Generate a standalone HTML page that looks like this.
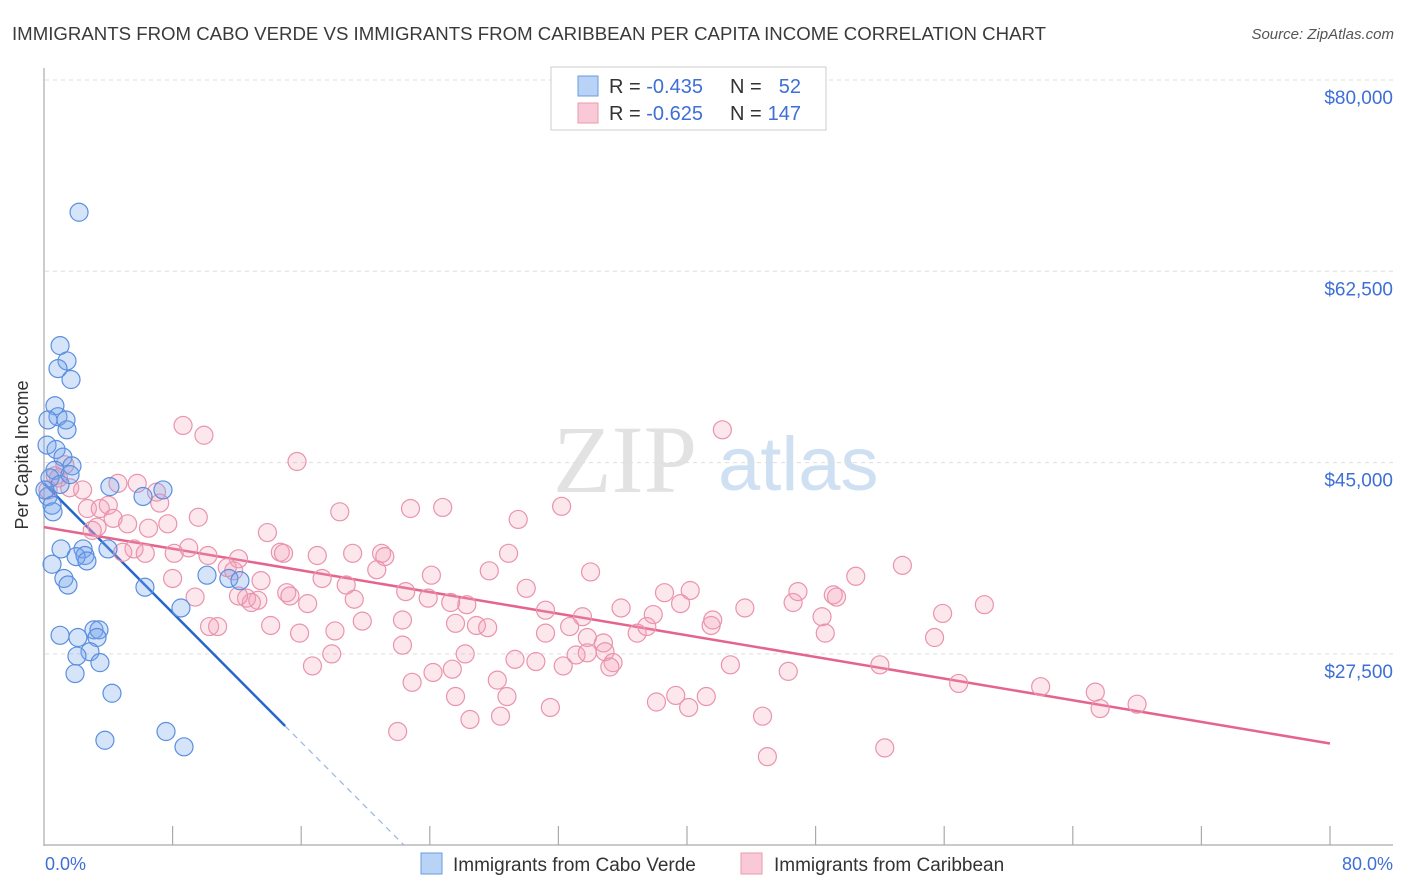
<!DOCTYPE html>
<html><head><meta charset="utf-8"><style>
body{margin:0;background:#fff;font-family:"Liberation Sans",sans-serif;}
svg{display:block}
</style></head><body>
<svg id="chart" width="1406" height="892" viewBox="0 0 1406 892" xmlns="http://www.w3.org/2000/svg">
<text x="12" y="40" font-size="18" fill="#3a3a3a" textLength="1034" lengthAdjust="spacingAndGlyphs">IMMIGRANTS FROM CABO VERDE VS IMMIGRANTS FROM CARIBBEAN PER CAPITA INCOME CORRELATION CHART</text>
<text x="1394" y="39" font-size="15" fill="#555" font-style="italic" text-anchor="end">Source: ZipAtlas.com</text>
<g>
<text x="553" y="492" font-size="96" font-family="Liberation Serif" fill="#e2e2e2">ZIP</text>
<text x="718" y="490" font-size="76" fill="#cfe0f3">atlas</text>
</g>
<g id="grid"></g>
<g id="axes"></g>
<g id="trend"></g>
<g id="points"></g>
<text x="28" y="455" font-size="18" fill="#333" text-anchor="middle" transform="rotate(-90 28 455)">Per Capita Income</text>
<text x="45" y="870" font-size="18" fill="#3d6fd6">0.0%</text>
<text x="1393" y="870" font-size="18" fill="#3d6fd6" text-anchor="end">80.0%</text>
<g>
<rect x="551" y="67" width="275" height="63" fill="#fff" stroke="#ccc"/>
<rect x="578" y="76" width="20" height="20" fill="#b8d3f5" stroke="#6a9be0"/>
<rect x="578" y="103" width="20" height="20" fill="#f9c9d7" stroke="#e99ab2"/>
<text x="609" y="93" font-size="20" fill="#333">R = <tspan fill="#3d6fd6">-0.435</tspan></text>
<text x="730" y="93" font-size="20" fill="#333">N =</text>
<text x="801" y="93" font-size="20" fill="#3d6fd6" text-anchor="end">52</text>
<text x="609" y="120" font-size="20" fill="#333">R = <tspan fill="#3d6fd6">-0.625</tspan></text>
<text x="730" y="120" font-size="20" fill="#333">N =</text>
<text x="801" y="120" font-size="20" fill="#3d6fd6" text-anchor="end">147</text>
</g>
<g>
<rect x="421" y="853" width="21" height="21" fill="#b8d3f5" stroke="#6a9be0"/>
<text x="453" y="871" font-size="19" fill="#333">Immigrants from Cabo Verde</text>
<rect x="741" y="853" width="21" height="21" fill="#f9c9d7" stroke="#e99ab2"/>
<text x="774" y="871" font-size="19" fill="#333">Immigrants from Caribbean</text>
</g>
</svg>
<script>
const yTicks=[80000,62500,45000,27500];
const yTickLabels=["$80,000","$62,500","$45,000","$27,500"];
const xTicks=[0,8,16,24,32,40,48,56,64,72,80];
const blueX=[2.18,1.0,1.43,0.87,1.68,0.68,0.87,1.37,1.43,0.25,0.19,0.75,1.18,1.74,0.68,0.37,1.0,4.1,7.4,6.16,0.25,0.5,0.56,1.06,2.43,2.55,2.0,2.67,3.98,0.5,1.24,1.49,6.28,10.14,11.5,12.19,8.52,3.11,3.42,1.0,2.11,3.3,2.86,2.05,3.48,1.93,4.23,7.59,3.79,8.71,0.06,1.62];
const blueY=[67.9,55.7,54.3,53.6,52.6,50.2,49.2,48.9,48.0,48.9,46.6,46.2,45.5,44.7,44.3,43.6,43.0,42.8,42.5,41.9,41.9,41.1,40.5,37.1,37.1,36.5,36.4,36.0,37.1,35.7,34.4,33.8,33.6,34.7,34.4,34.2,31.7,29.7,29.7,29.2,29.0,29.0,27.7,27.3,26.7,25.7,23.9,20.4,19.6,19.0,42.5,43.9];
const pinkX=[8.65,9.95,15.74,42.2,22.8,24.8,18.4,29.5,32.2,4.6,5.8,7.0,2.4,1.3,0.7,1.6,2.7,3.5,4.0,4.3,3.3,5.2,3.0,6.5,7.2,7.7,9.6,8.1,9.0,5.6,4.9,6.3,10.2,12.1,13.9,14.7,14.9,17.0,19.2,21.0,21.2,28.9,34.0,24.1,17.3,13.5,11.4,11.8,12.6,13.3,12.9,12.1,9.4,8.0,15.1,15.3,16.4,18.8,19.3,20.7,22.5,23.9,25.3,26.3,27.7,30.0,31.2,33.5,35.9,37.9,38.6,39.6,40.2,41.5,43.6,46.6,46.9,48.4,49.1,49.3,50.5,53.4,55.9,58.5,15.9,14.1,10.3,10.8,19.8,22.3,18.1,26.9,25.6,27.6,31.2,32.7,33.8,34.8,36.9,37.5,41.6,48.6,55.4,22.3,26.2,29.3,30.6,32.3,33.1,33.8,34.9,35.4,35.2,42.7,46.3,52.0,16.7,17.9,24.2,25.4,28.2,28.8,25.6,22.9,26.5,28.4,31.5,38.1,39.3,40.1,41.2,44.7,56.9,62.0,65.4,65.7,68.0,22.0,45.0,52.3,0.25,0.9];
const pinkY=[48.4,47.5,45.1,48.0,40.8,40.9,40.5,39.8,41.0,43.1,43.1,42.3,42.5,44.8,43.8,42.7,40.8,40.8,41.1,39.9,39.1,39.4,38.8,39.0,41.3,39.4,40.0,36.7,37.2,37.1,36.8,36.7,36.5,36.2,38.6,36.8,36.7,36.5,36.7,36.7,36.4,36.7,35.0,34.7,34.4,34.2,35.4,35.1,32.6,32.4,32.2,32.8,32.7,34.4,33.1,32.8,32.1,33.8,32.5,35.2,33.2,32.6,32.2,32.0,35.1,33.5,31.5,30.9,31.7,31.1,33.1,32.1,33.3,30.1,31.7,32.2,33.2,30.9,32.9,32.7,34.6,35.6,31.2,32.0,29.4,30.1,30.0,30.0,30.5,30.6,29.6,30.1,30.3,29.9,29.4,30.0,29.0,28.5,29.4,30.0,30.6,29.4,29.0,28.3,27.5,27.0,26.8,26.4,27.4,27.6,27.7,26.7,26.3,26.5,25.9,26.5,26.4,27.5,25.8,26.1,25.1,23.6,23.6,24.9,21.5,21.8,22.6,23.1,23.7,22.6,23.6,21.8,24.8,24.5,24.0,22.5,22.9,20.4,18.1,18.9,42.5,43.6];
const blueTrendX=[0,15,22.4];
const blueTrendY=[43.1,20.9,10.0];
const pinkTrendX=[0,80];
const pinkTrendY=[39.1,19.3];

const NS="http://www.w3.org/2000/svg";
function X(p){return 44+p*16.075;}
function Y(v){return 80+(80000-v)/17500*191.3;}
function Yk(k){return Y(k*1000);}
function mk(tag,attrs,parent){const e=document.createElementNS(NS,tag);for(const k in attrs)e.setAttribute(k,attrs[k]);parent.appendChild(e);return e;}
const grid=document.getElementById('grid'),axes=document.getElementById('axes'),trend=document.getElementById('trend'),pts=document.getElementById('points');
yTicks.forEach((t,i)=>{
 const l=mk('line',{x1:45,x2:1393,y1:Y(t),y2:Y(t),stroke:'#ddd','stroke-dasharray':'4,4'},grid);
 
 
 const tx=mk('text',{x:1393,y:Y(t)+24,'font-size':19,fill:'#3d6fd6','text-anchor':'end'},grid);
 tx.textContent=yTickLabels[i];
 
 
});
const ya=mk('line',{x1:44,x2:44,y1:68,y2:846,stroke:'#aaa','stroke-width':1.2},axes);


const xa=mk('line',{x1:44,x2:1393,y1:845,y2:845,stroke:'#aaa','stroke-width':1.2},axes);


xTicks.slice(1).forEach(t=>{
 const tk=mk('line',{x1:X(t),x2:X(t),y1:826,y2:845,stroke:'#aaa','stroke-width':1.2},axes);
 
 
});
const bt=mk('line',{x1:X(blueTrendX[0]),y1:Yk(blueTrendY[0]),x2:X(blueTrendX[1]),y2:Yk(blueTrendY[1]),stroke:'#2566cc','stroke-width':2.5},trend);


const bd=mk('line',{x1:X(blueTrendX[1]),y1:Yk(blueTrendY[1]),x2:X(blueTrendX[2]),y2:Yk(blueTrendY[2]),stroke:'#9ab5e0','stroke-width':1.2,'stroke-dasharray':'6,5'},trend);


const pt=mk('line',{x1:X(pinkTrendX[0]),y1:Yk(pinkTrendY[0]),x2:X(pinkTrendX[1]),y2:Yk(pinkTrendY[1]),stroke:'#e5648e','stroke-width':2.5},trend);


pinkX.forEach((x,i)=>{
 const c=mk('circle',{cx:X(x),cy:Yk(pinkY[i]),r:9,fill:'rgba(245,160,185,0.25)',stroke:'#ea93ad','stroke-width':1.2},pts);
 
 
});
blueX.forEach((x,i)=>{
 const c=mk('circle',{cx:X(x),cy:Yk(blueY[i]),r:9,fill:'rgba(120,165,235,0.3)',stroke:'#5a8fe0','stroke-width':1.2},pts);
 
 
});
</script>
</body></html>
